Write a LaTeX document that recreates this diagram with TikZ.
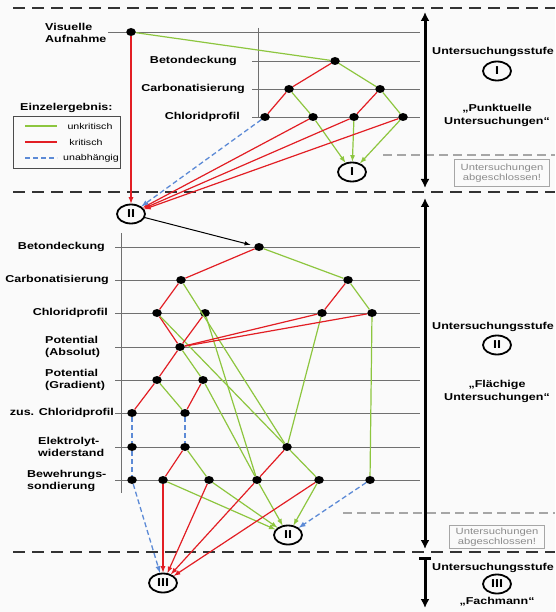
\documentclass[tikz,border=0pt]{standalone}
\usepackage{fontspec}
\setmainfont{Liberation Sans}[FakeStretch=1.25]
\usetikzlibrary{arrows,arrows.meta,shapes.geometric,calc,positioning}
\usepackage{xcolor}
\definecolor{gruen}{RGB}{141,198,63}
\definecolor{rot}{RGB}{226,30,36}
\definecolor{blau}{RGB}{92,138,214}
\definecolor{linie}{RGB}{112,112,112}
\definecolor{papier}{RGB}{250,250,250}
\tikzstyle{punkt} = [ellipse, fill=black, inner sep=0pt, minimum width=9.5pt, minimum height=8pt]
\tikzstyle{stufe} = [ellipse, draw=black, line width=1.8pt, inner sep=0pt, minimum width=28pt, minimum height=19pt, font=\bfseries\fontsize{11.5}{11.5}\selectfont]
\tikzstyle{zeile} = [draw=linie, line width=0.8pt]
\tikzstyle{merkmal} = [font=\bfseries\fontsize{10}{12.5}\selectfont, inner sep=0pt]
\tikzstyle{legende} = [font=\fontsize{8.5}{10}\selectfont, inner sep=0pt]
\tikzstyle{unkrit} = [draw=gruen, line width=1.2pt]
\tikzstyle{krit} = [draw=rot, line width=1.2pt]
\tikzstyle{unabh} = [draw=blau, line width=1.3pt, dash pattern=on 5pt off 3pt]
\tikzstyle{trenner} = [draw=black!80, line width=2.2pt, dash pattern=on 12pt off 7pt]
\tikzstyle{ende} = [draw=black!35, line width=1.5pt, dash pattern=on 9pt off 5pt]
\tikzstyle{hinweis} = [draw=black!35, line width=1pt, text=black!45, font=\fontsize{9}{10}\selectfont, align=center, minimum width=95pt, inner sep=2pt]
\tikzstyle{stufentext} = [font=\bfseries\fontsize{10}{13}\selectfont, align=center, inner sep=0pt]
\tikzstyle{pfeil} = [line width=3pt, {Latex[length=9pt,width=9pt]}-{Latex[length=9pt,width=9pt]}]

\begin{document}
\begin{tikzpicture}[x=1pt,y=-1pt,>=latex]
    \fill[papier] (0,0) rectangle (555,612);
    \useasboundingbox (0,0) rectangle (555,612);

    % Trennlinien
    \draw[trenner] (13,8) -- (555,8);
    \draw[trenner] (13,192) -- (555,192);
    \draw[trenner] (13,552) -- (555,552);
    \draw[ende] (383,155) -- (555,155);
    \draw[ende] (343,513) -- (555,513);

    % Stufe I: Raster
    \draw[zeile] (108,32) -- (420,32);
    \foreach \y in {61,89,117}
        \draw[zeile] (252,\y) -- (420,\y);
    \draw[zeile] (258,28) -- (258,117);

    \node[merkmal, anchor=west, align=left] (lva) at (45,33) {Visuelle\\Aufnahme};
    \node[merkmal, anchor=east] (lbd1) at (237,61) {Betondeckung};
    \node[merkmal, anchor=east] (lcb1) at (245,89) {Carbonatisierung};
    \node[merkmal, anchor=east] (lcl1) at (240,117) {Chloridprofil};

    \node[punkt] (va) at (131,32) {};
    \node[punkt] (bd1) at (335,61) {};
    \node[punkt] (cb1) at (289,89) {};
    \node[punkt] (cb2) at (380,89) {};
    \node[punkt] (cl1) at (265,117) {};
    \node[punkt] (cl2) at (313,117) {};
    \node[punkt] (cl3) at (354,117) {};
    \node[punkt] (cl4) at (403,117) {};
    \node[stufe] (S1) at (352,172) {I};
    \node[stufe] (S2) at (131,214) {II};

    \draw[unkrit] (va) -- (bd1);
    \draw[krit] (bd1) -- (cb1);
    \draw[unkrit] (bd1) -- (cb2);
    \draw[krit] (cb1) -- (cl1);
    \draw[unkrit] (cb1) -- (cl2);
    \draw[krit] (cb2) -- (cl3);
    \draw[unkrit] (cb2) -- (cl4);
    \draw[unkrit,->] (cl2) -- (S1);
    \draw[unkrit,->] (cl3) -- (S1);
    \draw[unkrit,->] (cl4) -- (S1);
    \draw[krit,->] (va) -- (S2);
    \draw[krit,->] (cl2) -- (S2);
    \draw[krit,->] (cl3) -- (S2);
    \draw[krit,->] (cl4) -- (S2);
    \draw[unabh,->] (cl1) -- (S2);

    % Legende
    \node[merkmal, anchor=west] (ez) at (20,108) {Einzelergebnis:};
    \draw[draw=black!70, line width=1pt] (13,117) rectangle (120,169);
    \draw[unkrit] (25,126) -- (57,126);
    \draw[krit] (25,142) -- (57,142);
    \draw[unabh] (25,158) -- (57,158);
    \node[legende] (lg1) at (90,126) {unkritisch};
    \node[legende] (lg2) at (86,142) {kritisch};
    \node[legende] (lg3) at (91,158) {unabhängig};

    % Stufe II: Raster
    \foreach \y in {247,280,313,347,380,413,447,480}
        \draw[zeile] (115,\y) -- (420,\y);
    \draw[zeile] (121,233) -- (121,493);

    \node[merkmal, anchor=east] (lbd) at (105,247) {Betondeckung};
    \node[merkmal, anchor=east] (lcb) at (109,280) {Carbonatisierung};
    \node[merkmal, anchor=east] (lcl) at (108,313) {Chloridprofil};
    \node[merkmal, anchor=west, align=left] (lpa) at (45,347) {Potential\\(Absolut)};
    \node[merkmal, anchor=west, align=left] (lpg) at (45,380) {Potential\\(Gradient)};
    \node[merkmal, anchor=east] (lzc) at (114,413) {zus. Chloridprofil};
    \node[merkmal, anchor=west, align=left] (lel) at (38,447) {Elektrolyt-\\widerstand};
    \node[merkmal, anchor=west, align=left] (lbw) at (27,481) {Bewehrungs-\\sondierung};

    \node[punkt] (bd) at (259,247) {};
    \node[punkt] (cbl) at (181,280) {};
    \node[punkt] (cbr) at (348,280) {};
    \node[punkt] (chA) at (157,313) {};
    \node[punkt] (chB) at (205,313) {};
    \node[punkt] (chC) at (322,313) {};
    \node[punkt] (chD) at (372,313) {};
    \node[punkt] (pa) at (180,347) {};
    \node[punkt] (pgA) at (157,380) {};
    \node[punkt] (pgB) at (203,380) {};
    \node[punkt] (zcA) at (132,413) {};
    \node[punkt] (zcB) at (185,413) {};
    \node[punkt] (elA) at (132,447) {};
    \node[punkt] (elB) at (185,447) {};
    \node[punkt] (elC) at (287,447) {};
    \node[punkt] (bwA) at (132,480) {};
    \node[punkt] (bwB) at (163,480) {};
    \node[punkt] (bwC) at (209,480) {};
    \node[punkt] (bwD) at (257,480) {};
    \node[punkt] (bwE) at (319,480) {};
    \node[punkt] (bwF) at (370,480) {};
    \node[stufe] (S2b) at (288,535) {II};
    \node[stufe] (S3) at (163,583) {III};

    \draw[line width=1pt,->,shorten >=4pt] (S2) -- (bd);

    \draw[krit] (bd) -- (cbl);
    \draw[unkrit] (bd) -- (cbr);
    \draw[krit] (cbl) -- (chA);
    \draw[unkrit] (cbl) -- (elC);
    \draw[krit] (cbr) -- (chC);
    \draw[unkrit] (cbr) -- (chD);
    \draw[krit] (chA) -- (pa);
    \draw[unkrit] (chA) -- (elC);
    \draw[krit] (chB) -- (pa);
    \draw[unkrit] (chB) -- (bwD);
    \draw[krit] (chC) -- (pa);
    \draw[unkrit] (chC) -- (elC);
    \draw[krit] (chD) -- (pa);
    \draw[unkrit] (chD) -- (bwF);
    \draw[krit] (pa) -- (pgA);
    \draw[unkrit] (pa) -- (pgB);
    \draw[krit] (pgA) -- (zcA);
    \draw[unkrit] (pgA) -- (zcB);
    \draw[krit] (pgB) -- (zcB);
    \draw[unkrit] (pgB) -- (bwD);
    \draw[unabh] (zcA) -- (elA);
    \draw[unabh] (zcB) -- (elB);
    \draw[unabh] (elA) -- (bwA);
    \draw[krit] (elB) -- (bwB);
    \draw[unkrit] (elB) -- (bwC);
    \draw[krit] (elC) -- (bwD);
    \draw[unkrit] (elC) -- (bwE);

    \draw[unkrit,->] (bwB) -- (S2b);
    \draw[unkrit,->] (bwC) -- (S2b);
    \draw[unkrit,->] (bwD) -- (S2b);
    \draw[unkrit,->] (bwE) -- (S2b);
    \draw[unabh,->] (bwF) -- (S2b);
    \draw[unabh,->] (bwA) -- (S3);
    \draw[krit,->] (bwB) -- (S3);
    \draw[krit,->] (bwC) -- (S3);
    \draw[krit,->] (bwD) -- (S3);
    \draw[krit,->] (bwE) -- (S3);

    % Untersuchungsstufen rechts
    \coordinate (p1o) at (425,12);
    \coordinate (p1u) at (425,188);
    \coordinate (p2o) at (425,198);
    \coordinate (p2u) at (425,549);
    \coordinate (p3o) at (425,557);
    \coordinate (p3u) at (425,608);
    \draw[pfeil] (p1o) -- (p1u);
    \draw[pfeil] (p2o) -- (p2u);
    \draw[line width=3pt, {Bar[width=12pt]}-{Latex[length=9pt,width=9pt]}] (p3o) -- (p3u);

    \node[stufentext] (t1) at (493,52) {Untersuchungsstufe};
    \node[stufe] (r1) at (497,71) {I};
    \node[stufentext] (n1) at (497,115) {„Punktuelle\\Untersuchungen“};
    \node[hinweis, minimum height=27pt] (h1) at (502,173) {Untersuchungen\\abgeschlossen!};

    \node[stufentext] (t2) at (493,327) {Untersuchungsstufe};
    \node[stufe] (r2) at (497,345) {II};
    \node[stufentext] (n2) at (497,391) {„Flächige\\Untersuchungen“};
    \node[hinweis, minimum height=23pt] (h2) at (497,537) {Untersuchungen\\abgeschlossen!};

    \node[stufentext] (t3) at (493,568) {Untersuchungsstufe};
    \node[stufe] (r3) at (497,584) {III};
    \node[stufentext] (n3) at (497,602) {„Fachmann“};
\end{tikzpicture}
\end{document}
